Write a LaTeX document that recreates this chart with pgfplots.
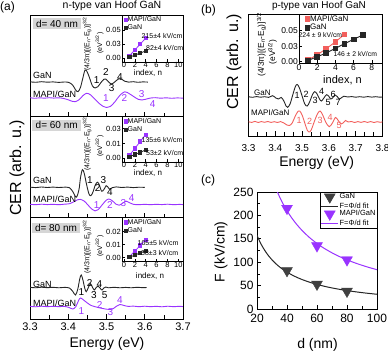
\documentclass[border=0pt]{standalone}
\usepackage{fontspec}
\setmainfont{Liberation Sans}
\usepackage{pgfplots}
\pgfplotsset{compat=1.18}

\definecolor{mapiA}{HTML}{9933FF}
\definecolor{mapiB}{HTML}{F25F5C}
\definecolor{ganK}{HTML}{262626}
\definecolor{ganG}{HTML}{404040}
\definecolor{dbox}{HTML}{D6D6D6}

\newcommand{\fsz}[1]{\fontsize{#1}{#1}\selectfont}
\newcommand{\ylabA}{(4/3π)[(E\textsubscript{n}-E\textsubscript{g})]\textsuperscript{3/2}}
\newcommand{\ylabB}{(eV\textsuperscript{3/2})}

\pgfplotsset{
  cer/.style={
    scale only axis, anchor=south west,
    axis line style={line width=0.8pt},
    tick style={line width=0.7pt, black},
    tick align=inside,
    xtick pos=left, ytick=\empty,
    major tick length=4.5pt, minor tick length=3.5pt,
    ymin=0,
  },
  cerA/.style={cer, width=153pt, xmin=3.3, xmax=3.7,
    xtick={3.3,3.4,3.5,3.6,3.7}, minor x tick num=1, xticklabels={}},
  spec/.style={smooth, tension=0.55, line width=0.9pt},
  ins/.style={
    scale only axis, anchor=south west,
    axis background/.style={fill=white},
    axis line style={line width=0.7pt},
    tick style={line width=0.5pt, black},
    tick align=inside, xtick pos=left, ytick pos=left,
    major tick length=2.5pt, minor tick length=1.5pt,
    scaled y ticks=false, scaled x ticks=false,
    xticklabel style={font=\fsz{7.5}, inner sep=0.5pt},
    yticklabel style={font=\fsz{7.5}, inner sep=1pt},
    legend cell align=left,
    legend image code/.code={\draw[##1] plot coordinates {(0cm,0cm)};},
  },
  insA/.style={ins, width=61pt, xmin=-0.37, xmax=10.87, xtick={0,2,4,6,8,10},
    xticklabels={0,2,4,6,8,10},
    legend style={at={(0.02,1)}, anchor=north west, draw=none, fill=none,
      font=\fsz{7}, inner sep=0.5pt, nodes={inner sep=0.6pt}, row sep=0.6pt}},
  fitA/.style={line width=0.8pt, mark=square*, mark size=1.6pt},
}

\begin{document}
\begin{tikzpicture}[x=1pt,y=1pt]
\useasboundingbox (0,0) rectangle (388,353);

% ---------------- panel (a), top: d = 40 nm
\begin{axis}[cerA, at={(30pt,236.7pt)}, height=101.3pt, ymax=101.3]
\addplot[spec, ganK] coordinates {
(3.300,34.5) (3.315,34.0) (3.330,34.6) (3.345,34.1) (3.360,34.4) (3.375,33.9)
(3.390,34.3) (3.402,33.8) (3.412,31.0) (3.419,26.5) (3.4255,24.6) (3.432,29.0)
(3.438,38.0) (3.444,46.3) (3.450,44.0) (3.457,37.0) (3.463,30.5) (3.470,28.3)
(3.477,29.5) (3.485,33.5) (3.493,37.0) (3.498,37.3) (3.505,34.5) (3.513,32.3)
(3.522,34.5) (3.532,37.5) (3.540,37.0) (3.548,35.0) (3.558,34.2) (3.570,34.6)
(3.582,34.0) (3.595,34.4) (3.608,34.2)};
\addplot[spec, mapiA] coordinates {
(3.300,18.6) (3.312,18.0) (3.325,18.5) (3.338,18.1) (3.350,18.6) (3.362,18.2)
(3.375,18.5) (3.388,17.8) (3.400,16.5) (3.410,15.0) (3.418,14.6) (3.428,16.5)
(3.438,20.5) (3.448,23.0) (3.458,21.5) (3.470,17.0) (3.482,12.5) (3.492,9.8)
(3.500,8.8) (3.510,9.8) (3.522,14.5) (3.535,21.0) (3.548,24.5) (3.560,22.5)
(3.572,19.5) (3.583,17.0) (3.592,16.3) (3.602,17.0) (3.614,18.2) (3.628,18.6)
(3.642,18.1) (3.656,18.5) (3.670,18.0) (3.685,18.4) (3.700,18.1)};
\end{axis}

% ---------------- panel (a), middle: d = 60 nm
\begin{axis}[cerA, at={(30pt,135.3pt)}, height=101.4pt, ymax=101.4]
\addplot[spec, ganK] coordinates {
(3.300,30.6) (3.315,30.1) (3.330,30.7) (3.345,30.2) (3.360,30.6) (3.375,30.2)
(3.390,30.5) (3.403,30.0) (3.412,26.0) (3.421,20.5) (3.428,28.0) (3.432,40.0)
(3.437,48.0) (3.442,44.0) (3.448,33.0) (3.454,24.0) (3.459,22.0) (3.465,26.0)
(3.471,33.0) (3.477,35.5) (3.482,32.0) (3.487,26.5) (3.493,28.0) (3.499,32.0)
(3.503,31.0) (3.508,28.5) (3.515,30.0) (3.525,30.8) (3.540,30.2) (3.555,30.6)
(3.570,30.1) (3.585,30.5) (3.600,30.3)};
\addplot[spec, mapiA] coordinates {
(3.300,13.4) (3.315,13.0) (3.330,13.5) (3.345,13.1) (3.360,13.4) (3.375,13.0)
(3.390,13.5) (3.403,14.0) (3.415,16.0) (3.425,18.0) (3.432,18.3) (3.442,16.5)
(3.452,12.5) (3.462,8.5) (3.470,6.8) (3.478,8.0) (3.488,12.5) (3.498,17.0)
(3.506,18.7) (3.515,17.0) (3.525,13.5) (3.533,12.5) (3.542,14.5) (3.552,16.5)
(3.560,15.0) (3.570,13.4) (3.585,13.0) (3.600,13.4) (3.615,13.0) (3.630,13.4)
(3.645,13.1) (3.660,13.5) (3.675,13.0) (3.690,13.3) (3.700,13.1)};
\end{axis}

% ---------------- panel (a), bottom: d = 80 nm
\begin{axis}[cerA, at={(30pt,34pt)}, height=101.3pt, ymax=101.3,
  xticklabels={3.3,3.4,3.5,3.6,3.7}, xticklabel style={font=\fsz{11}}]
\addplot[spec, ganK] coordinates {
(3.300,31.7) (3.315,31.2) (3.330,31.8) (3.345,31.3) (3.360,31.7) (3.375,31.2)
(3.390,31.6) (3.403,31.0) (3.412,27.5) (3.419,24.0) (3.425,30.0) (3.430,40.0)
(3.434,44.0) (3.439,38.0) (3.443,31.0) (3.447,27.3) (3.452,31.0) (3.458,35.3)
(3.463,32.0) (3.468,29.0) (3.473,31.5) (3.478,33.0) (3.483,31.0) (3.488,29.0)
(3.493,31.0) (3.498,32.0) (3.505,31.2) (3.520,31.7) (3.535,31.2) (3.550,31.6)
(3.565,31.2) (3.580,31.7) (3.595,31.3) (3.605,31.5)};
\addplot[spec, mapiA] coordinates {
(3.300,12.7) (3.315,12.2) (3.330,12.8) (3.345,12.3) (3.360,12.7) (3.375,12.3)
(3.390,12.6) (3.402,11.5) (3.412,10.0) (3.420,12.5) (3.427,18.5) (3.432,21.0)
(3.440,19.0) (3.450,16.0) (3.460,13.5) (3.470,12.3) (3.480,11.3) (3.490,10.5)
(3.500,9.8) (3.510,9.5) (3.518,10.5) (3.527,13.0) (3.535,14.5) (3.545,13.6)
(3.557,12.6) (3.570,12.9) (3.585,12.3) (3.600,12.8) (3.615,12.3) (3.630,12.7)
(3.645,12.2) (3.660,12.8) (3.675,12.3) (3.690,12.7) (3.700,12.4)};
\end{axis}

% ---------------- insets of panel (a)
\begin{axis}[insA, at={(122pt,291pt)}, height=47pt,
  ymin=-0.0071, ymax=0.0768, ytick={0,0.025,0.05}, yticklabels={0.00,0.03,0.05}]
\addplot[forget plot, mapiA, fitA] coordinates {(1,0.004) (2,0.0145) (3,0.025) (4,0.0355)};
\addplot[forget plot, ganK, fitA] coordinates {(1,0.0015) (2,0.005) (3,0.009) (4,0.0125)};
\addlegendimage{only marks, mark=square*, mark size=1.6pt, mapiA}
\addlegendentry{MAPI/GaN}
\addlegendimage{only marks, mark=square*, mark size=1.6pt, ganK}
\addlegendentry{GaN}
\end{axis}

\begin{axis}[insA, at={(122pt,191pt)}, height=45.3pt,
  ymin=-0.0037, ymax=0.042, ytick={0,0.015,0.03}, yticklabels={0.00,0.01,0.03}]
\addplot[forget plot, mapiA, fitA] coordinates {(1,0.003) (2,0.010) (3,0.017) (4,0.024)};
\addplot[forget plot, ganK, fitA] coordinates {(1,0.0015) (2,0.004) (3,0.006) (4,0.0085)};
\addlegendimage{only marks, mark=square*, mark size=1.6pt, mapiA}
\addlegendentry{MAPI/GaN}
\addlegendimage{only marks, mark=square*, mark size=1.6pt, ganK}
\addlegendentry{GaN}
\end{axis}

\begin{axis}[insA, at={(122pt,91.3pt)}, height=44pt,
  ymin=-0.0031, ymax=0.0308, ytick={0,0.01,0.02}, yticklabels={0.00,0.01,0.02}]
\addplot[forget plot, mapiA, fitA] coordinates {(1,0.0008) (2,0.005) (3,0.0095) (4,0.014)};
\addplot[forget plot, ganK, fitA] coordinates {(1,0.0003) (2,0.002) (3,0.0037) (4,0.0053)};
\addlegendimage{only marks, mark=square*, mark size=1.6pt, mapiA}
\addlegendentry{MAPI/GaN}
\addlegendimage{only marks, mark=square*, mark size=1.6pt, ganK}
\addlegendentry{GaN}
\end{axis}

% ---------------- panel (b)
\begin{axis}[cer, at={(248.5pt,217pt)}, width=134pt, height=122pt,
  xmin=3.3, xmax=3.8, ymin=-1, ymax=121,
  xtick={3.3,3.4,3.5,3.6,3.7,3.8}, minor x tick num=2,
  xticklabels={3.3,3.4,3.5,3.6,3.7,3.8},
  xticklabel style={font=\fsz{10}, yshift=-5pt}]
\addplot[spec, ganK] coordinates {
(3.300,38.3) (3.315,37.7) (3.330,38.4) (3.345,37.8) (3.360,38.3) (3.375,37.6)
(3.390,39.3) (3.402,37.0) (3.412,36.0) (3.422,37.5) (3.432,34.0) (3.440,29.0)
(3.446,27.7) (3.455,31.0) (3.465,40.0) (3.475,48.5) (3.482,50.5) (3.490,47.0)
(3.500,39.0) (3.510,31.0) (3.519,29.0) (3.528,33.0) (3.538,40.0) (3.547,43.3)
(3.556,41.0) (3.565,36.0) (3.572,34.0) (3.580,36.5) (3.591,40.3) (3.600,38.5)
(3.607,36.0) (3.615,37.5) (3.623,40.0) (3.631,38.5) (3.639,36.0) (3.648,37.5)
(3.656,38.8) (3.670,38.0) (3.685,38.4) (3.700,37.8) (3.715,38.3) (3.730,37.8)
(3.745,38.4) (3.760,37.9) (3.775,38.3) (3.790,37.8) (3.800,38.1)};
\addplot[spec, mapiB] coordinates {
(3.300,13.3) (3.312,12.6) (3.324,13.6) (3.336,12.5) (3.348,13.4) (3.360,12.7)
(3.372,13.5) (3.384,12.6) (3.396,13.3) (3.408,12.5) (3.420,13.4) (3.432,12.0)
(3.443,10.0) (3.453,9.5) (3.463,12.0) (3.473,18.0) (3.483,23.0) (3.491,24.0)
(3.500,20.0) (3.510,12.0) (3.519,5.0) (3.5265,3.0) (3.534,5.0) (3.545,13.0)
(3.557,21.0) (3.567,24.0) (3.577,20.0) (3.588,13.0) (3.601,8.3) (3.613,12.0)
(3.625,17.5) (3.636,14.0) (3.646,11.0) (3.656,13.0) (3.662,14.5) (3.672,13.0)
(3.684,13.5) (3.696,12.5) (3.708,13.4) (3.720,12.6) (3.732,13.5) (3.744,12.6)
(3.756,13.4) (3.768,12.5) (3.780,13.3) (3.792,12.7) (3.800,13.2)};
\end{axis}

\begin{axis}[ins, at={(299pt,290pt)}, width=83.5pt, height=49pt,
  xmin=0, xmax=9.18, ymin=-0.0021, ymax=0.0769,
  xtick={0,2,4,6,8}, xticklabels={0,2,4,6,8},
  ytick={0,0.025,0.05}, yticklabels={0.00,0.03,0.05},
  xticklabel style={font=\fsz{8.5}, inner sep=1pt}, yticklabel style={font=\fsz{8.5}},
  legend style={at={(0.06,1)}, anchor=north west, draw=none, fill=none,
    font=\fsz{8}, inner sep=0.5pt, nodes={inner sep=0.7pt}, row sep=0pt}]
\addplot[forget plot, mapiB, line width=0.9pt, mark=square*, mark size=2.4pt]
  coordinates {(1,0.003) (2,0.011) (3,0.021) (4,0.032) (5,0.044)};
\addplot[forget plot, ganK, line width=0.9pt, mark=square*, mark size=2.4pt]
  coordinates {(1,0.002) (2,0.008) (3,0.014) (4,0.0215) (5,0.029) (6,0.036) (7,0.043)};
\addlegendimage{only marks, mark=square*, mark size=2.4pt, mapiB}
\addlegendentry{MAPI/GaN}
\addlegendimage{only marks, mark=square*, mark size=2.4pt, ganK}
\addlegendentry{GaN}
\end{axis}

% ---------------- panel (c)
\begin{axis}[scale only axis, anchor=south west, at={(257pt,44pt)}, width=120pt, height=117pt,
  xmin=20, xmax=100, ymin=0, ymax=250,
  axis line style={line width=0.8pt}, tick style={line width=0.7pt, black},
  tick align=inside, xtick pos=left, ytick pos=left,
  major tick length=4pt, minor tick length=2.5pt,
  xtick={20,40,60,80,100}, minor x tick num=1,
  ytick={0,50,100,150,200,250}, minor y tick num=1,
  tick label style={font=\fsz{12}, /pgf/number format/assume math mode=true},
  xticklabel style={yshift=-2pt},
  legend cell align=left,
  legend style={at={(1,1)}, anchor=north east, draw=black, line width=0.5pt,
    font=\fsz{7.5}, inner sep=0.5pt, nodes={inner sep=0.8pt}, row sep=-1pt}]
\addplot[only marks, mark=triangle*, mark size=6.3pt, ganG,
  mark options={rotate=180, fill=ganG, draw=ganG}]
  coordinates {(40,82) (60,53) (80,38)};
\addlegendentry{GaN}
\addplot[smooth, ganK, line width=1pt] coordinates {
(20,157.5) (22,143.2) (24,131.3) (26,121.2) (28,112.5) (30,105) (33,95.5)
(36,87.5) (40,78.8) (45,70) (50,63) (55,57.3) (60,52.5) (67,47) (74,42.6)
(80,39.4) (87,36.2) (94,33.5) (100,31.5)};
\addlegendentry{F=Φ/d fit}
\addplot[only marks, mark=triangle*, mark size=6.3pt, mapiA,
  mark options={rotate=180, fill=mapiA, draw=mapiA}]
  coordinates {(40,215) (60,135) (80,105)};
\addlegendentry{MAPI/GaN}
\addplot[smooth, mapiA, line width=1pt] coordinates {
(33,254.5) (35,240) (37.5,224) (40,210) (43,195.3) (46,182.6) (50,168)
(55,152.7) (60,140) (65,129.2) (70,120) (75,112) (80,105) (87,96.6)
(94,89.4) (100,84)};
\addlegendentry{F=Φ/d fit}
\end{axis}

% ---------------- texts
\node[anchor=west, inner sep=0, font=\fsz{12}] at (0,345.5) {(a)};
\node[font=\fsz{10.5}] at (112,347) {n-type van Hoof GaN};
\node[anchor=west, inner sep=0, font=\fsz{12}] at (201,342.5) {(b)};
\node[font=\fsz{10}] at (319,347.5) {p-type van Hoof GaN};
\node[anchor=west, inner sep=0, font=\fsz{12}] at (201,173) {(c)};

\node[rotate=90, font=\fsz{16}] at (17,185) {CER (arb. u.)};
\node[font=\fsz{14}] at (107,9.5) {Energy (eV)};
\node[rotate=90, font=\fsz{16}] at (234,291) {CER (arb. u.)};
\node[font=\fsz{14}] at (316.7,190) {Energy (eV)};
\node[font=\fsz{14}] at (317.5,8) {d (nm)};
\node[rotate=90, font=\fsz{14}] at (221,101.3) {F (kV/cm)};

% d boxes
\node[fill=dbox, inner xsep=3.5pt, inner ysep=1.8pt, font=\fsz{10}, text height=7.2pt, text depth=0pt] at (57,329.3) {d= 40 nm};
\node[fill=dbox, inner xsep=3.5pt, inner ysep=1.8pt, font=\fsz{10}, text height=7.2pt, text depth=0pt] at (56.7,227.7) {d= 60 nm};
\node[fill=dbox, inner xsep=3.5pt, inner ysep=1.8pt, font=\fsz{10}, text height=7.2pt, text depth=0pt] at (56,125) {d= 80 nm};

% curve names
\begin{scope}[font=\fsz{9}, inner sep=0]
\node[anchor=west] at (33,278) {GaN};
\node[anchor=west] at (33,259) {MAPI/GaN};
\node[anchor=west] at (33,173) {GaN};
\node[anchor=west] at (33,154) {MAPI/GaN};
\node[anchor=west] at (33,68.5) {GaN};
\node[anchor=west] at (33,49.7) {MAPI/GaN};
\node[anchor=west, font=\fsz{8}] at (254,260.5) {GaN};
\node[anchor=west, font=\fsz{8}] at (251,240) {MAPI/GaN};
\end{scope}

% extrema indices (a)
\begin{scope}[font=\fsz{10}, inner sep=0]
\node at (96.7,273) {1}; \node at (106,281.3) {2}; \node at (111.7,264.7) {3}; \node at (120,276.3) {4};
\node[mapiA] at (106,254.7) {1}; \node[mapiA] at (124.3,255.3) {2}; \node[mapiA] at (141.7,258.7) {3}; \node[mapiA] at (152.7,248.7) {4};
\node at (90,173) {1}; \node at (97.7,164.7) {2}; \node at (103.3,173) {3}; \node at (110,161.3) {4};
\node[mapiA] at (96.7,148) {1}; \node[mapiA] at (110,148) {2}; \node[mapiA] at (123.3,149.7) {3}; \node[mapiA] at (131.7,154.7) {4};
\node at (81.5,61) {1}; \node at (89.7,70) {2}; \node at (93.8,58.3) {3}; \node at (99.5,68.5) {4}; \node at (104.7,58.3) {5};
\node[mapiA] at (81.5,42) {1}; \node[mapiA] at (99.7,48) {2}; \node[mapiA] at (110.5,41.3) {3}; \node[mapiA] at (120,53.3) {4};
\end{scope}

% extrema indices (b)
\begin{scope}[font=\fsz{9}, inner sep=0]
\node at (297,258) {1}; \node at (306,259) {2}; \node at (315,252.5) {3}; \node at (321.7,261.3) {4};
\node at (328,251) {5}; \node at (333,258.7) {6}; \node at (338,250.5) {7};
\node[mapiB] at (299,233) {1}; \node[mapiB] at (309.7,232) {2}; \node[mapiB] at (320,233) {3};
\node[mapiB] at (330,235.7) {4}; \node[mapiB] at (339,228) {5};
\end{scope}

% inset texts (a)
\begin{scope}[font=\fsz{7}, inner sep=0]
\node[anchor=west] at (141.5,317) {215±4 kV/cm};
\node[anchor=west] at (146,304.5) {82±4 kV/cm};
\node[anchor=west] at (141.5,212.5) {135±6 kV/cm};
\node[anchor=west] at (146,200) {53±2 kV/cm};
\node[anchor=west] at (137.5,110.3) {105±5 kV/cm};
\node[anchor=west] at (141,99.7) {38±3 kV/cm};
\end{scope}
\begin{scope}[font=\fsz{8}, inner sep=0.5pt]
\node at (148,280) {index, n};
\node at (148,180) {index, n};
\node at (150,77) {index, n};
\end{scope}
\begin{scope}[font=\fsz{7}, inner sep=0]
\node[rotate=90] at (87,309) {\ylabA};
\node[rotate=90] at (99.5,310) {\ylabB};
\node[rotate=90] at (87,209) {\ylabA};
\node[rotate=90] at (99.5,207) {\ylabB};
\node[rotate=90] at (87,106) {\ylabA};
\node[rotate=90] at (99.5,107) {\ylabB};
\end{scope}

% inset texts (b)
\node[anchor=west, inner sep=0, font=\fsz{6.8}] at (298.5,318) {224 ± 9 kV/cm};
\node[anchor=west, inner sep=0, font=\fsz{6.8}] at (333.3,299) {146 ± 2 kV/cm};
\node[font=\fsz{11}] at (342.5,273) {index, n};
\node[rotate=90, inner sep=0, font=\fsz{8.4}] at (261.5,308) {\ylabA};
\node[rotate=90, inner sep=0, font=\fsz{8.4}] at (272.5,301) {\ylabB};

\end{tikzpicture}
\end{document}
